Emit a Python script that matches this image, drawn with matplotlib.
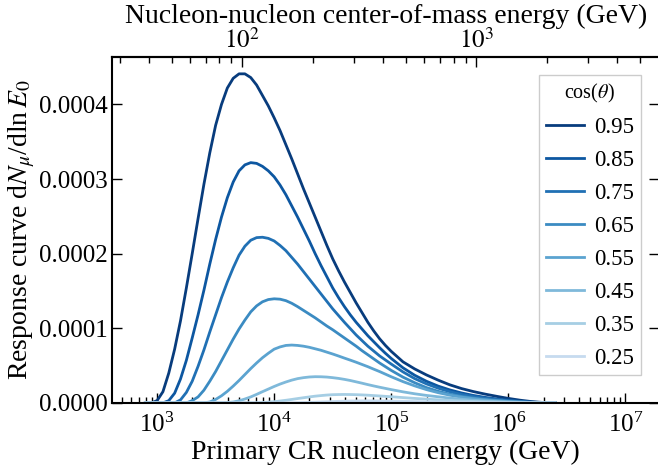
import numpy as np
import matplotlib
matplotlib.use("Agg")
import matplotlib.pyplot as plt
from matplotlib.ticker import FormatStrFormatter, LogLocator

plt.rcParams["font.family"] = ["Liberation Serif", "DejaVu Serif"]
plt.rcParams["mathtext.fontset"] = "stix"

# log10 of primary energy (GeV) at which the response curves are tabulated
log_energy = [2.90, 2.95, 3.00, 3.05, 3.10, 3.15, 3.20, 3.25, 3.30, 3.35,
              3.40, 3.45, 3.50, 3.55, 3.60, 3.65, 3.70, 3.75, 3.80, 3.85,
              3.90, 3.95, 4.00, 4.05, 4.10, 4.15, 4.20, 4.25, 4.30, 4.35,
              4.40, 4.45, 4.50, 4.55, 4.60, 4.65, 4.70, 4.75, 4.80, 4.85,
              4.90, 4.95, 5.00,
              5.1, 5.2, 5.3, 5.4, 5.5, 5.6, 5.7, 5.8, 5.9, 6.0, 6.1, 6.2, 6.3, 6.4]

cos_theta = [0.95, 0.85, 0.75, 0.65, 0.55, 0.45, 0.35, 0.25]

# dN_mu / dlnE0, in units of 1e-5
resp_095 = [0, 0, 0.3, 1.5, 4.0, 7.2, 11.0, 15.4, 20.0, 24.7,
            29.3, 33.5, 37.2, 40.0, 42.2, 43.5, 44.1, 44.1, 43.6, 42.6,
            41.2, 39.8, 38.2, 36.5, 34.6, 32.7, 30.7, 28.7, 26.8, 24.9,
            23.0, 21.1, 19.3, 17.7, 16.2, 14.8, 13.4, 12.1, 10.8, 9.65,
            8.6, 7.7, 6.9,
            5.5, 4.55, 3.75, 3.05, 2.42, 1.92, 1.52, 1.18, 0.88, 0.6, 0.36, 0.17, 0.05, 0]
resp_085 = [0] * 4 + [
            0.3, 1.3, 3.2, 5.7, 8.7, 11.8, 15.1, 18.6, 21.9, 24.9,
            27.5, 29.6, 31.1, 31.9, 32.2, 32.1, 31.7, 31.1, 30.3, 29.2,
            27.9, 26.4, 24.9, 23.3, 21.7, 20.0, 18.4, 16.9, 15.4, 14.1,
            12.9, 11.8, 10.8, 9.9, 9.0, 8.2, 7.4, 6.65, 5.95,
            4.7, 3.7, 2.9, 2.25, 1.74, 1.33, 1.0, 0.74, 0.53, 0.36, 0.21, 0.1, 0.03, 0]
resp_075 = [0] * 6 + [
            0.4, 1.4, 2.9, 4.9, 7.1, 9.5, 11.8, 14.1, 16.2, 18.1,
            19.8, 21.0, 21.8, 22.15, 22.2, 22.05, 21.7, 21.1, 20.4, 19.5,
            18.6, 17.6, 16.6, 15.6, 14.6, 13.6, 12.6, 11.7, 10.8, 9.95,
            9.1, 8.35, 7.6, 6.95, 6.3, 5.75, 5.2,
            4.15, 3.25, 2.55, 1.97, 1.5, 1.13, 0.84, 0.62, 0.44, 0.29, 0.17, 0.08, 0.02, 0]
resp_065 = [0] * 8 + [
            0.3, 0.8, 1.7, 2.9, 4.2, 5.65, 7.1, 8.55, 9.9, 11.1,
            12.2, 13.0, 13.55, 13.85, 13.95, 13.9, 13.7, 13.35, 12.9, 12.4,
            11.9, 11.4, 10.85, 10.3, 9.8, 9.25, 8.7, 8.15, 7.6, 7.0,
            6.45, 5.9, 5.35, 4.85, 4.35,
            3.45, 2.7, 2.05, 1.55, 1.17, 0.87, 0.64, 0.46, 0.32, 0.21, 0.12, 0.05, 0.015, 0]
resp_055 = [0] * 11 + [
            0.12, 0.46, 0.95, 1.55, 2.25, 3.0, 3.8, 4.6, 5.35, 6.05,
            6.65, 7.2, 7.5, 7.7, 7.75, 7.7, 7.6, 7.45, 7.25, 7.05,
            6.8, 6.55, 6.28, 6.0, 5.73, 5.45, 5.15, 4.85, 4.52, 4.2,
            3.85, 3.5,
            2.85, 2.28, 1.78, 1.37, 1.03, 0.77, 0.56, 0.40, 0.28, 0.18, 0.10, 0.045, 0.012, 0]
resp_045 = [0] * 14 + [
            0.03, 0.12, 0.28, 0.52, 0.8, 1.14, 1.5, 1.85, 2.2, 2.52,
            2.8, 3.05, 3.25, 3.38, 3.47, 3.51, 3.5, 3.46, 3.38, 3.28,
            3.15, 3.0, 2.82, 2.64, 2.45, 2.27, 2.1, 1.94, 1.78,
            1.48, 1.22, 1.0, 0.82, 0.64, 0.49, 0.36, 0.26, 0.18, 0.11, 0.06, 0.03, 0.01, 0]
resp_035 = [0] * 19 + [
            0.02, 0.05, 0.1, 0.16, 0.25, 0.35, 0.46, 0.58, 0.69, 0.8,
            0.9, 0.98, 1.05, 1.1, 1.12, 1.13, 1.12, 1.1, 1.07, 1.03,
            0.98, 0.93, 0.875, 0.82,
            0.71, 0.6, 0.5, 0.41, 0.33, 0.26, 0.195, 0.14, 0.1, 0.065, 0.038, 0.018, 0.006, 0]
resp_025 = [0] * 26 + [
            0.02, 0.04, 0.06, 0.09, 0.12, 0.15, 0.18, 0.205, 0.23, 0.25,
            0.26, 0.268, 0.27, 0.268, 0.26, 0.25, 0.24,
            0.21, 0.18, 0.15, 0.12, 0.095, 0.073, 0.055, 0.04, 0.028, 0.018, 0.01, 0.005, 0.0015, 0]

responses = [resp_095, resp_085, resp_075, resp_065,
             resp_055, resp_045, resp_035, resp_025]
UNIT = 1e-5
PROTON_MASS = 0.938  # GeV

for r in responses:
    assert len(r) == len(log_energy)

fig = plt.figure(figsize=(6.58, 4.70), dpi=100)
ax = fig.add_axes([0.1702, 0.1428, 0.832, 0.7366])

energy = 10.0 ** np.array(log_energy)
for ct, resp in zip(cos_theta, responses):
    ax.plot(energy, np.array(resp) * UNIT, color=plt.cm.Blues(ct), lw=2.0,
            label=f"{ct:.2f}")

ax.set_xscale("log")
ax.set_xlim(10 ** 2.615, 10 ** 7.29)
ax.set_ylim(0, 0.000464)
ax.yaxis.set_major_formatter(FormatStrFormatter("%.4f"))
ax.set_yticks([0, 0.0001, 0.0002, 0.0003, 0.0004])

ax.set_xlabel("Primary CR nucleon energy (GeV)", fontsize=20, labelpad=2)
ax.set_ylabel(r"Response curve d$N_\mu$/dln$\,E_0$", fontsize=20, labelpad=1.5)

for sp in ax.spines.values():
    sp.set_linewidth(1.5)
ax.tick_params(axis="both", which="both", direction="in", labelsize=18,
               top=False, right=True, width=1.0)
ax.tick_params(axis="x", which="major", pad=7)
ax.tick_params(axis="y", which="major", pad=3)
ax.tick_params(which="major", length=7)
ax.tick_params(which="minor", length=4)
ax.xaxis.set_minor_locator(LogLocator(base=10, subs=np.arange(2, 10), numticks=20))

secax = ax.secondary_xaxis(
    "top",
    functions=(lambda e: np.sqrt(2 * PROTON_MASS * np.clip(e, 1e-12, None)),
               lambda s: s ** 2 / (2 * PROTON_MASS)))
secax.set_xticks([100, 1000], [r"$10^{2}$", r"$10^{3}$"])
secax.set_xlabel("Nucleon-nucleon center-of-mass energy (GeV)", fontsize=20, labelpad=4)
secax.tick_params(axis="x", which="both", direction="in", labelsize=18, width=1.0)
secax.tick_params(which="major", length=7, pad=2.5)
secax.tick_params(which="minor", length=4)
secax.spines["top"].set_linewidth(1.5)

leg = ax.legend(title=r"cos($\theta$)", loc="upper right",
                bbox_to_anchor=(0.966, 0.947), fontsize=16.5, title_fontsize=14.5,
                fancybox=False, edgecolor="#cccccc", framealpha=1.0,
                handlelength=1.65, handletextpad=0.45, borderpad=0.3,
                labelspacing=0.52, borderaxespad=0.0)
leg.get_frame().set_linewidth(1.0)

fig.savefig("out.png", dpi=100)
